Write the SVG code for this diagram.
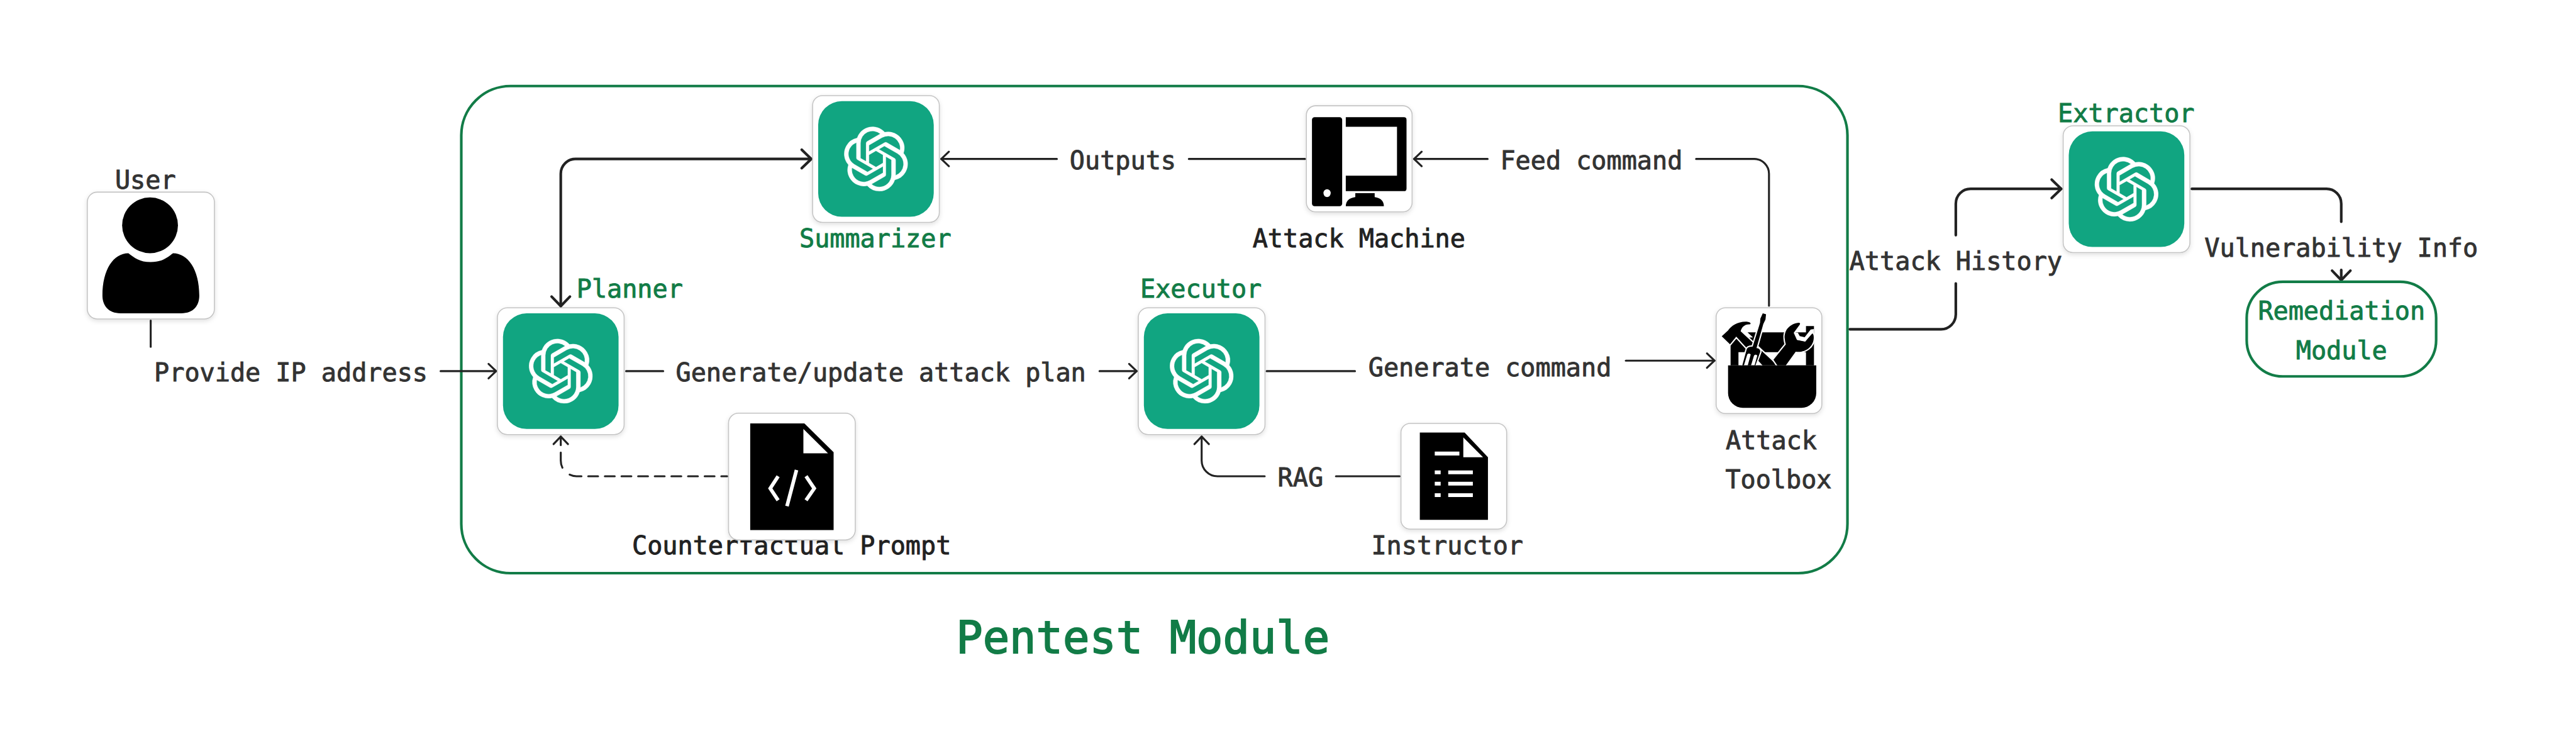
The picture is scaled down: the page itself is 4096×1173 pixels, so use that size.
<svg xmlns="http://www.w3.org/2000/svg" xmlns:xlink="http://www.w3.org/1999/xlink" width="4096" height="1173" viewBox="0 0 4096 1173">
<style>
.t{font-family:"DejaVu Sans Mono","Liberation Mono",monospace;font-size:76.9px;text-anchor:middle;fill:#333;stroke:#333;stroke-width:1.8px}
.d{fill:#222;stroke:#222}
.g{fill:#127c47;stroke:#127c47}
.card{fill:#fff;stroke:#c4c4c4;stroke-width:3;filter:url(#sh)}
.teal{fill:#11a581}
.c{fill:none;stroke:#222;stroke-width:6;stroke-linecap:round;stroke-linejoin:round}
.k{stroke-width:8}
.gb{fill:none;stroke:#127c47;stroke-width:8}
.h{stroke:#fff;stroke-width:24;stroke-linejoin:round;paint-order:stroke;fill:#000}
.w{fill:#fff}
</style>
<defs>
<filter id="sh" x="-10%" y="-10%" width="120%" height="125%"><feDropShadow dx="0" dy="5" stdDeviation="7" flood-color="#000" flood-opacity="0.12"/></filter>
<marker id="a" markerUnits="userSpaceOnUse" markerWidth="80" markerHeight="80" viewBox="0 0 80 80" refX="40" refY="40" orient="auto-start-reverse"><path d="M17,18 L40,40 L17,62" fill="none" stroke="#222" stroke-width="6" stroke-linecap="round" stroke-linejoin="round"/></marker>
<marker id="b" markerUnits="userSpaceOnUse" markerWidth="80" markerHeight="80" viewBox="0 0 80 80" refX="40" refY="40" orient="auto-start-reverse"><path d="M11,12 L40,40 L11,68" fill="none" stroke="#222" stroke-width="8" stroke-linecap="round" stroke-linejoin="round"/></marker>
<g id="agent">
<rect class="card" x="0" y="0" width="386" height="386" rx="30"/>
<rect class="teal" x="17" y="17" width="352" height="352" rx="72"/>
<path transform="translate(193 193) scale(8.17) translate(-12 -12)" fill="#fff" stroke="#fff" stroke-width="0.06" d="M22.2819 9.8211a5.9847 5.9847 0 0 0-.5157-4.9108 6.0462 6.0462 0 0 0-6.5098-2.9A6.0651 6.0651 0 0 0 4.9807 4.1818a5.9847 5.9847 0 0 0-3.9977 2.9 6.0462 6.0462 0 0 0 .7427 7.0966 5.98 5.98 0 0 0 .511 4.9107 6.051 6.051 0 0 0 6.5146 2.9001A5.9847 5.9847 0 0 0 13.2599 24a6.0557 6.0557 0 0 0 5.7718-4.2058 5.9894 5.9894 0 0 0 3.9977-2.9001 6.0557 6.0557 0 0 0-.7475-7.0729zm-9.022 12.6081a4.4755 4.4755 0 0 1-2.8764-1.0408l.1419-.0804 4.7783-2.7582a.7948.7948 0 0 0 .3927-.6813v-6.7369l2.02 1.1686a.071.071 0 0 1 .038.052v5.5826a4.504 4.504 0 0 1-4.4945 4.4944zm-9.6607-4.1254a4.4708 4.4708 0 0 1-.5346-3.0137l.142.0852 4.783 2.7582a.7712.7712 0 0 0 .7806 0l5.8428-3.3685v2.3324a.0804.0804 0 0 1-.0332.0615L9.74 19.9502a4.4992 4.4992 0 0 1-6.1408-1.6464zM2.3408 7.8956a4.485 4.485 0 0 1 2.3655-1.9728V11.6a.7664.7664 0 0 0 .3879.6765l5.8144 3.3543-2.0201 1.1685a.0757.0757 0 0 1-.071 0l-4.8303-2.7865A4.504 4.504 0 0 1 2.3408 7.872zm16.5963 3.8558L13.1038 8.364 15.1192 7.2a.0757.0757 0 0 1 .071 0l4.8303 2.7913a4.4944 4.4944 0 0 1-.6765 8.1042v-5.6772a.79.79 0 0 0-.407-.667zm2.0107-3.0231l-.142-.0852-4.7735-2.7818a.7759.7759 0 0 0-.7854 0L9.409 9.2297V6.8974a.0662.0662 0 0 1 .0284-.0615l4.8303-2.7866a4.4992 4.4992 0 0 1 6.6802 4.66zM8.3065 12.863l-2.02-1.1638a.0804.0804 0 0 1-.038-.0567V6.0742a4.4992 4.4992 0 0 1 7.3757-3.4537l-.142.0805L8.704 5.459a.7948.7948 0 0 0-.3927.6813zm1.0976-2.3654l2.602-1.4998 2.6069 1.4998v2.9994l-2.5974 1.4997-2.6067-1.4997Z"/>
</g>
</defs>
<g transform="scale(0.52205)">
<rect id="pentest-box" class="gb" x="1405" y="262" width="4222" height="1483" rx="150"/>
<text id="pentest-title" class="t g" x="3481" y="1988" style="font-size:135px;stroke-width:3.5px">Pentest Module</text>

<g id="connectors">
<path class="c" d="M459,976 V1056"/>
<path class="c" d="M1342,1130 H1511" marker-end="url(#a)"/>
<path class="c k" d="M1708,932 V529 A45,45 0 0 1 1753,484 H2471" marker-start="url(#b)" marker-end="url(#b)"/>
<path class="c" d="M3219,484 H2867" marker-end="url(#a)"/>
<path class="c" d="M3975,484 H3621"/>
<path class="c" d="M5166,484 H5343 A45,45 0 0 1 5388,529 V931"/>
<path class="c" d="M4531,484 H4307" marker-end="url(#a)"/>
<path class="c" d="M1907,1130 H2020"/>
<path class="c" d="M3349,1130 H3462" marker-end="url(#a)"/>
<path class="c" d="M3858,1130 H4127"/>
<path class="c" d="M4952,1098 H5222" marker-end="url(#a)"/>
<path class="c k" d="M5634,1002.500 H5912 A45,45 0 0 0 5957,957.500 V863"/>
<path class="c k" d="M5957,716 V620 A45,45 0 0 1 6002,575 H6278" marker-end="url(#b)"/>
<path class="c k" d="M6676,575 H7086 A45,45 0 0 1 7131,620 V675"/>
<path class="c k" d="M7131,822 V853" marker-end="url(#b)"/>
<path class="c" d="M2215,1450 H1791" stroke-dasharray="30 20.670" stroke-dashoffset="12"/>
<path class="c" d="M1771,1450 H1756 A48,48 0 0 1 1735,1445"/>
<path class="c" d="M1713,1424 A48,48 0 0 1 1708,1402 V1378"/>
<path class="c" d="M1708,1355 V1329" marker-end="url(#a)"/>
<path class="c" d="M4263,1450 H4069"/>
<path class="c" d="M3852,1450 H3708 A48,48 0 0 1 3660,1402 V1329" marker-end="url(#a)"/>
</g>

<g id="user">
<text class="t" x="443" y="574">User</text>
<rect class="card" x="266" y="585" width="387" height="386" rx="30"/>
<ellipse cx="457" cy="686" rx="85" ry="85"/>
<path d="M391,771 C410,785 425,798 459,798 C493,798 508,785 527,771 C572,771 607,820 607,900 C607,930 590,954 552,954 H367 C330,954 312,930 312,900 C312,820 346,771 391,771 Z"/>
</g>

<g id="planner">
<use xlink:href="#agent" href="#agent" x="1515" y="937"/>
<text class="t g" x="1918" y="906">Planner</text>
</g>

<g id="summarizer">
<use xlink:href="#agent" href="#agent" x="2475" y="291"/>
<text class="t g" x="2666" y="753">Summarizer</text>
</g>

<g id="executor">
<use xlink:href="#agent" href="#agent" x="3467" y="937"/>
<text class="t g" x="3658" y="906">Executor</text>
</g>

<g id="extractor">
<use xlink:href="#agent" href="#agent" x="6284" y="383"/>
<text class="t g" x="6476" y="372">Extractor</text>
</g>

<g id="attack-machine">
<rect class="card" x="3979" y="322" width="322" height="323" rx="28"/>
<rect x="3996" y="357" width="92" height="271" rx="8"/>
<ellipse class="w" cx="4042" cy="588" rx="11" ry="12"/>
<path d="M4099,357 H4276 Q4284,357 4284,365 V574 Q4284,582 4276,582 H4099 V535 H4255 V386 H4099 Z"/>
<path d="M4128,588 H4187 V600 Q4215,604 4215,628 H4099 Q4099,604 4128,600 Z"/>
<text class="t d" x="4139" y="753">Attack Machine</text>
</g>

<g id="attack-toolbox">
<rect class="card" x="5227" y="937" width="322" height="322" rx="28"/>
<g transform="translate(5180 920) scale(0.33333)">
<path d="M273,385 V578 H1035 V218 H962 V275 H428 L478,322 L330,330 Z"/>
<path class="w" d="M345,457 H962 V578 H345 Z"/>
<path class="h" d="M192,312 L250,258 C280,215 340,175 420,178 C450,180 465,195 450,203 C400,200 375,230 365,265 L700,578 H565 L325,315 L268,385 Z"/>
<path class="h" d="M567,102 L597,110 L592,158 L572,200 L510,420 C540,420 552,445 540,465 L500,578 H380 L418,440 Q420,405 475,405 L542,190 L545,150 Z"/>
<path class="w" d="M395,578 L425,478 Q440,462 457,478 L430,578 Z M460,578 L487,488 Q502,472 517,488 L492,578 Z"/>
<path class="h" d="M700,578 H778 L868,452 C950,465 1035,410 1033,320 C1033,290 1020,280 1010,290 L955,360 L880,345 L850,280 L905,205 C915,190 900,185 885,190 C800,205 760,270 768,335 C770,360 778,385 778,385 L665,525 Z"/>
<path class="w" d="M855,275 L888,278 L905,310 L950,320 L1005,250 L1035,245 L1035,285 L1020,285 L955,358 L880,343 Z"/>
<path d="M250,578 H1056 V830 A135,135 0 0 1 921,965 H385 A135,135 0 0 1 250,830 Z"/>
</g>
<text class="t" x="5395" y="1367">Attack</text>
<text class="t" x="5417" y="1487">Toolbox</text>
</g>

<g id="counterfactual-prompt">
<text class="t d" x="2411" y="1688">Counterfactual Prompt</text>
<rect class="card" x="2219" y="1258" width="386" height="386" rx="30"/>
<path d="M2285,1289 H2450 L2539,1377 V1614 H2285 Z"/>
<path class="w" d="M2447,1306 V1380 H2522 Z"/>
<path d="M2370,1450 L2346,1487 L2370,1523 M2426,1431 L2397,1541 M2455,1450 L2480,1487 L2455,1523" fill="none" stroke="#fff" stroke-width="11"/>
</g>

<g id="instructor">
<rect class="card" x="4267" y="1289" width="322" height="322" rx="28"/>
<path d="M4324.500,1317 H4461 L4532,1392 V1582.500 H4324.500 Z"/>
<path class="w" d="M4457,1332 V1392 H4517 Z"/>
<path class="w" d="M4370,1375 H4445 V1387 H4370 Z M4370,1432.500 H4388 V1444 H4370 Z M4411,1432.500 H4486 V1444 H4411 Z M4370,1467 H4388 V1478.500 H4370 Z M4411,1467 H4486 V1478.500 H4411 Z M4370,1502 H4388 V1513.500 H4370 Z M4411,1502 H4486 V1513.500 H4411 Z"/>
<text class="t" x="4408" y="1687">Instructor</text>
</g>

<g id="remediation-module">
<rect class="gb" x="6843" y="858" width="577" height="288" rx="110"/>
<text class="t g" x="7132" y="974">Remediation</text>
<text class="t g" x="7132" y="1094">Module</text>
</g>

<g id="connector-labels">
<text class="t" x="886" y="1161">Provide IP address</text>
<text class="t" x="2683" y="1161">Generate/update attack plan</text>
<text class="t" x="3420" y="515">Outputs</text>
<text class="t" x="4847" y="515">Feed command</text>
<text class="t" x="4538" y="1145">Generate command</text>
<text class="t" x="5957" y="821">Attack History</text>
<text class="t" x="7131" y="781">Vulnerability Info</text>
<text class="t" x="3961" y="1481">RAG</text>
</g>
</g>
</svg>
